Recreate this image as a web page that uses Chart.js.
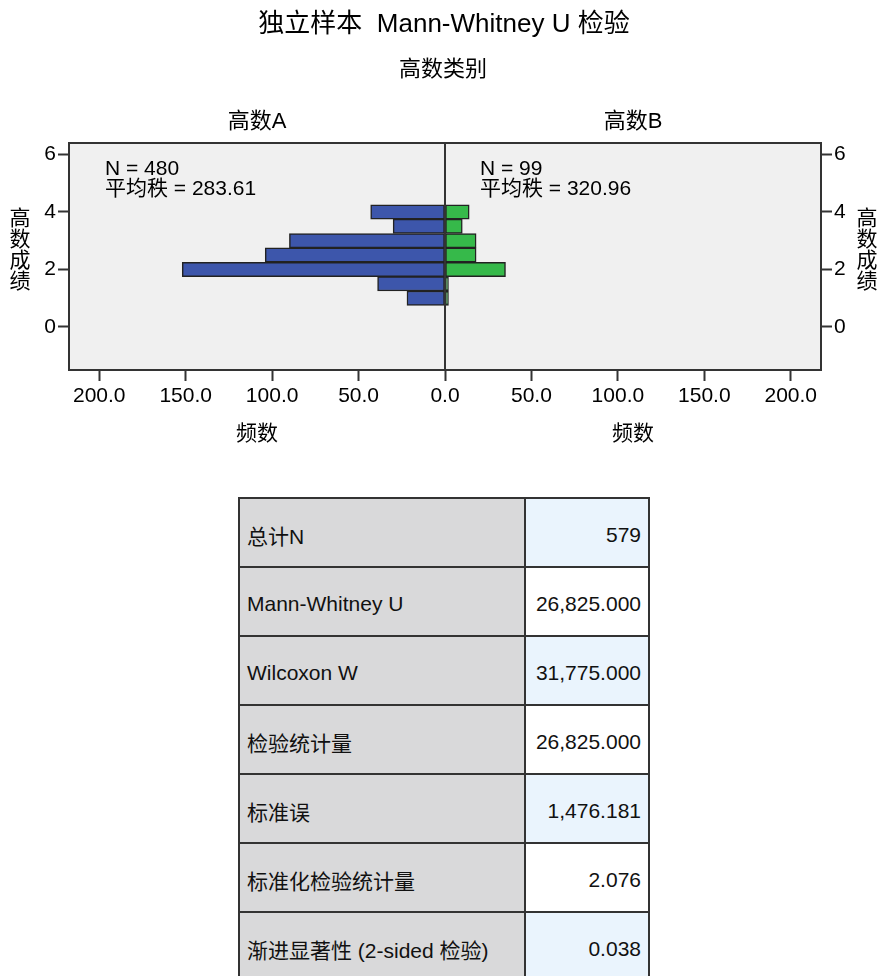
<!DOCTYPE html>
<html>
<head>
<meta charset="utf-8">
<script src="https://cdn.jsdelivr.net/npm/chart.js@4.4.0/dist/chart.umd.min.js"></script>
<style>
  body { margin: 0; background: #fff; font-family: "Liberation Sans", "Noto Sans CJK SC", sans-serif; }
  #wrap { position: relative; width: 880px; height: 976px; overflow: hidden; }
  #chart { position: absolute; left: 0; top: 0; }
  #stats { position: absolute; left: 238px; top: 497px; border-collapse: collapse; }
  #stats td { height: 63px; border: 2px solid #333; font-size: 21px; color: #111; padding: 4px 0 0 0; vertical-align: middle; }
  #stats td.lab { width: 277px; background: #d9d9da; padding-left: 7px; }
  #stats td.val { width: 115px; text-align: right; padding-right: 7px; }
  #stats tr:nth-child(odd) td.val { background: #eaf4fd; }
  #stats tr:nth-child(even) td.val { background: #fff; }
</style>
</head>
<body>
<div id="wrap">
  <canvas id="chart" width="880" height="460"></canvas>
  <table id="stats"></table>
</div>
<script>
// histogram bins (高数成绩) and counts per group
const scoreBins = [1, 1.5, 2, 2.5, 3, 3.5, 4]
const countsA = [22, 39, 152, 104, 90, 30, 43]
const countsB = [2, 2, 35, 18, 18, 10, 14]
const xTicks = [-200, -150, -100, -50, 0, 50, 100, 150, 200]
const yTicks = [0, 2, 4, 6]
const groupNames = ['高数A', '高数B']
const groupN = [480, 99]
const meanRanks = ['283.61', '320.96']

// test summary table
const statLabels = ['总计N', 'Mann-Whitney U', 'Wilcoxon W', '检验统计量', '标准误', '标准化检验统计量', '渐进显著性 (2-sided 检验)']
const statValues = ['579', '26,825.000', '31,775.000', '26,825.000', '1,476.181', '2.076', '0.038']

const FONT = "'Liberation Sans', 'Noto Sans CJK SC', sans-serif"

let table = document.getElementById('stats')
statLabels.forEach((lab, i) => {
  let tr = document.createElement('tr')
  tr.innerHTML = '<td class="lab">' + lab + '</td><td class="val">' + statValues[i] + '</td>'
  table.appendChild(tr)
})

const panelPlugin = {
  id: 'panel',
  beforeDraw(chart) {
    const { ctx, chartArea: a } = chart
    ctx.save()
    ctx.fillStyle = '#f0f0f0'
    ctx.fillRect(a.left, a.top, a.right - a.left, a.bottom - a.top)
    ctx.restore()
  },
  afterDatasetsDraw(chart) {
    const { ctx, chartArea: a, scales } = chart
    const x0 = scales.x.getPixelForValue(0)
    ctx.save()
    ctx.strokeStyle = '#333'
    ctx.lineWidth = 2
    ctx.beginPath()
    ctx.moveTo(x0, a.top)
    ctx.lineTo(x0, a.bottom)
    ctx.stroke()
    ctx.strokeRect(a.left, a.top, a.right - a.left, a.bottom - a.top)
    ctx.restore()
  },
  afterDraw(chart) {
    const { ctx, chartArea: a, scales } = chart
    const x0 = scales.x.getPixelForValue(0)
    const centers = [(a.left + x0) / 2, (x0 + a.right) / 2]
    ctx.save()
    ctx.fillStyle = '#000'
    ctx.textAlign = 'center'
    ctx.textBaseline = 'middle'
    ctx.font = '26px ' + FONT
    ctx.fillText('独立样本  Mann-Whitney U 检验', 444, 25)
    ctx.font = '22px ' + FONT
    ctx.fillText('高数类别', 443, 70)
    groupNames.forEach((g, i) => {
      ctx.fillText(g, centers[i], 122)
    })
    ctx.font = '21px ' + FONT
    groupNames.forEach((g, i) => {
      ctx.fillText('频数', centers[i], 434)
    })
    // vertical axis titles, one character per line
    const yTitle = '高数成绩'
    for (let i = 0; i < yTitle.length; i++) {
      ctx.fillText(yTitle[i], 20, 219 + i * 21)
      ctx.fillText(yTitle[i], 867, 219 + i * 21)
    }
    // N and mean rank inside each panel
    ctx.textAlign = 'left'
    ctx.textBaseline = 'alphabetic'
    const starts = [a.left + 36, x0 + 35]
    groupN.forEach((n, i) => {
      ctx.fillText('N = ' + n, starts[i], 175)
      ctx.fillText('平均秩 = ' + meanRanks[i], starts[i], 195)
    })
    ctx.restore()
  }
}

const tickFont = { family: FONT, size: 21 }
const gridOpts = { drawOnChartArea: false, offset: false, tickLength: 11, tickColor: '#333', tickWidth: 2 }

function yAxis(pos, w) {
  return {
    type: 'linear',
    position: pos,
    offset: false,
    min: -1.5,
    max: 6.4,
    afterBuildTicks: s => { s.ticks = yTicks.map(v => ({ value: v })) },
    afterFit: s => { s.width = w },
    ticks: { font: tickFont, color: '#000', padding: 2 },
    grid: gridOpts,
    border: { display: false }
  }
}

new Chart(document.getElementById('chart'), {
  type: 'bar',
  data: {
    datasets: [{
      label: groupNames[0],
      data: scoreBins.map((y, i) => ({ x: -countsA[i], y: y })),
      backgroundColor: '#3d56ab'
    }, {
      label: groupNames[1],
      data: scoreBins.map((y, i) => ({ x: countsB[i], y: y })),
      backgroundColor: '#36b94a'
    }]
  },
  options: {
    indexAxis: 'y',
    responsive: false,
    animation: false,
    layout: { padding: { top: 143, left: 0, right: 0, bottom: 0 } },
    datasets: {
      bar: {
        grouped: false,
        barPercentage: 1,
        categoryPercentage: 1,
        borderColor: '#222',
        borderWidth: 1.5,
        borderSkipped: false
      }
    },
    plugins: { legend: { display: false }, tooltip: { enabled: false } },
    scales: {
      x: {
        type: 'linear',
        min: -217.5,
        max: 217.5,
        afterBuildTicks: s => { s.ticks = xTicks.map(v => ({ value: v })) },
        afterFit: s => { s.height = 90 },
        ticks: {
          font: tickFont,
          color: '#000',
          padding: 3,
          maxRotation: 0,
          autoSkip: false,
          callback: v => Math.abs(v).toFixed(1)
        },
        grid: gridOpts,
        border: { display: false }
      },
      y: yAxis('left', 69),
      y2: yAxis('right', 59)
    }
  },
  plugins: [panelPlugin]
})
</script>
</body>
</html>
